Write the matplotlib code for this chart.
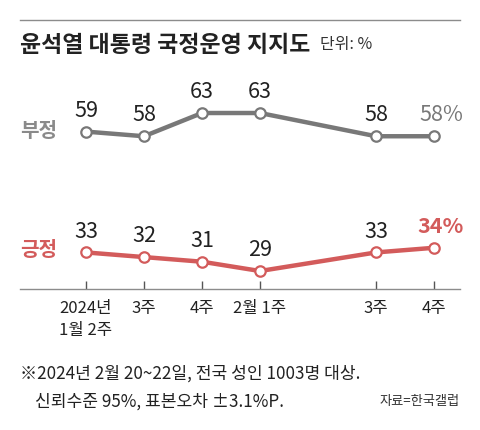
import matplotlib
matplotlib.use("Agg")
import matplotlib.pyplot as plt
from matplotlib.lines import Line2D

plt.rcParams['font.family'] = ['Noto Sans CJK KR', 'DejaVu Sans']

# data
week_pos = [0, 1, 2, 3, 5, 6]
week_labels = ['2024년\n1월 2주', '3주', '4주', '2월 1주', '3주', '4주']
bujeong = [59, 58, 63, 63, 58, 58]
geungjeong = [33, 32, 31, 29, 33, 34]

GRAY = '#787878'
RED = '#d35b5b'
W, H = 480, 430

fig = plt.figure(figsize=(4.8, 4.3), dpi=100)
fig.patch.set_facecolor('white')

# top rule + title
fig.add_artist(Line2D([20/W, 460/W], [1-20/H, 1-20/H], color='#8c8c8c', lw=1))
fig.text(20/W, 1-45/H, '윤석열 대통령 국정운영 지지도', fontsize=16.5, fontweight='bold',
         va='center', ha='left', color='#222222')
fig.text(320/W, 1-45/H, '단위: %', fontsize=11.5, va='center', ha='left', color='#333333')

ax = fig.add_axes([20/W, 1-289/H, 440/W, 189/H])
ax.set_xlim(-1.138, 6.448)
ax.set_ylim(25.13, 65.8)
for s in ['top', 'right', 'left']:
    ax.spines[s].set_visible(False)
ax.spines['bottom'].set_color('#8c8c8c')
ax.spines['bottom'].set_linewidth(1)
ax.set_yticks([])
ax.set_xticks(week_pos)
ax.set_xticklabels(week_labels, fontsize=12, color='#222222', linespacing=1.4, va='top')
ax.tick_params(axis='x', direction='in', length=6, width=1, color='#555555', pad=8)

for vals, col in [(bujeong, GRAY), (geungjeong, RED)]:
    ax.plot(week_pos, vals, color=col, lw=3.2, marker='o', ms=7.5,
            mfc='white', mec=col, mew=1.6, zorder=3, clip_on=False)
    for i, (x, v) in enumerate(zip(week_pos, vals)):
        if i == len(vals) - 1:
            ax.annotate(f'{v}%', (x, v), xytext=(5, 15), textcoords='offset points',
                        ha='center', va='center', fontsize=15.5, color=col,
                        fontweight='bold' if col == RED else 'medium')
        else:
            ax.annotate(f'{v}', (x, v), xytext=(0, 15), textcoords='offset points',
                        ha='center', va='center', fontsize=15.5, color='#222222')

fig.text(20/W, 1-131/H, '부정', fontsize=14.5, fontweight='bold', color='#8a8a8a',
         va='center', ha='left')
fig.text(20/W, 1-250/H, '긍정', fontsize=14.5, fontweight='bold', color=RED,
         va='center', ha='left')

# footnote
fig.text(20/W, 1-374/H, '※2024년 2월 20~22일, 전국 성인 1003명 대상.', fontsize=12.3,
         va='center', ha='left', color='#222222')
fig.text(35/W, 1-402/H, '신뢰수준 95%, 표본오차 ±3.1%P.', fontsize=12.3,
         va='center', ha='left', color='#222222')
fig.text(460/W, 1-402/H, '자료=한국갤럽', fontsize=9.5, va='center', ha='right', color='#333333')

fig.savefig('out.png', dpi=100)
